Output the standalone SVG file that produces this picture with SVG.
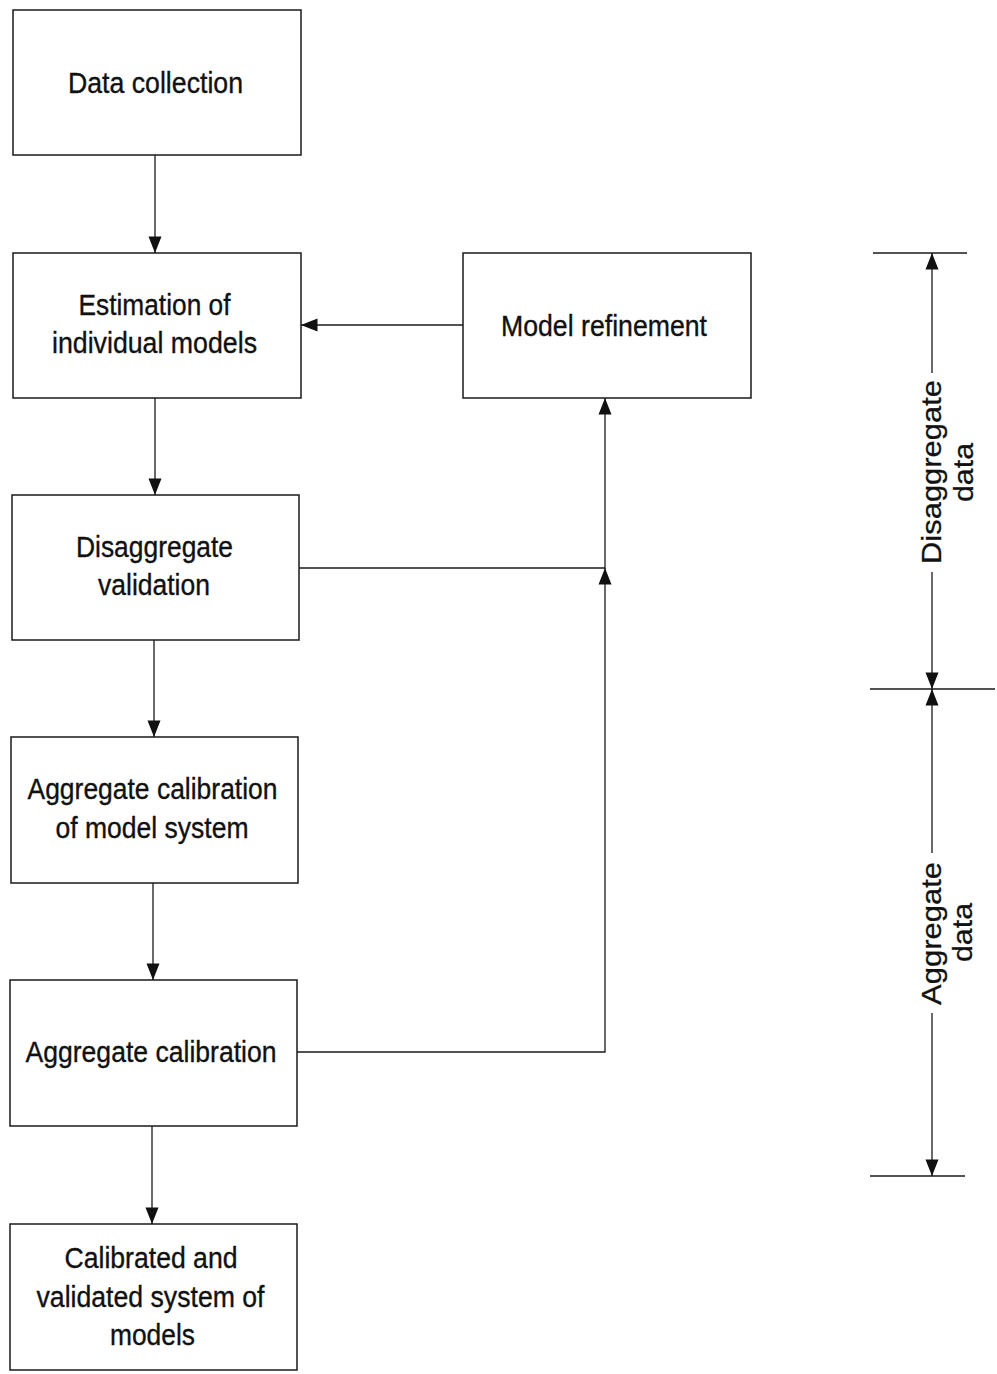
<svg xmlns="http://www.w3.org/2000/svg" width="997" height="1374" viewBox="0 0 997 1374">
  <defs>
    <style>
      .box { fill: #fff; stroke: #1a1a1a; stroke-width: 1.5; }
      .lbl { font-family: "Liberation Sans", Arial, sans-serif; font-size: 29px; fill: #111; stroke: #111; stroke-width: 0.35; text-anchor: middle; }
      .dim { font-family: "Liberation Sans", Arial, sans-serif; font-size: 28px; fill: #111; stroke: #111; stroke-width: 0.3; text-anchor: middle; }
      .wire { fill: none; stroke: #1a1a1a; stroke-width: 1.3; }
      .tick { fill: none; stroke: #1a1a1a; stroke-width: 1.5; }
    </style>
    <marker id="head" markerUnits="userSpaceOnUse" viewBox="0 0 17 14" markerWidth="17" markerHeight="14" refX="16.5" refY="7" orient="auto" overflow="visible">
      <path d="M0,0.5 L16.5,7 L0,13.5 z" fill="#111"/>
    </marker>
  </defs>
  <rect width="997" height="1374" fill="#fff"/>

  <!-- process steps -->
  <g id="data-collection">
    <rect class="box" x="13" y="10" width="288" height="145"/>
    <text class="lbl" x="155.5" y="93" textLength="175" lengthAdjust="spacingAndGlyphs">Data collection</text>
  </g>
  <g id="estimation">
    <rect class="box" x="13" y="253" width="288" height="145"/>
    <text class="lbl" x="154.5" y="315" textLength="152" lengthAdjust="spacingAndGlyphs">Estimation of</text>
    <text class="lbl" x="154.5" y="353" textLength="205" lengthAdjust="spacingAndGlyphs">individual models</text>
  </g>
  <g id="model-refinement">
    <rect class="box" x="463" y="253" width="288" height="145"/>
    <text class="lbl" x="604" y="336" textLength="206" lengthAdjust="spacingAndGlyphs">Model refinement</text>
  </g>
  <g id="disaggregate-validation">
    <rect class="box" x="12" y="495" width="287" height="145"/>
    <text class="lbl" x="154.5" y="557" textLength="157" lengthAdjust="spacingAndGlyphs">Disaggregate</text>
    <text class="lbl" x="154" y="595" textLength="112" lengthAdjust="spacingAndGlyphs">validation</text>
  </g>
  <g id="aggregate-calibration-system">
    <rect class="box" x="11" y="737" width="287" height="146"/>
    <text class="lbl" x="152.5" y="799" textLength="250" lengthAdjust="spacingAndGlyphs">Aggregate calibration</text>
    <text class="lbl" x="152" y="838" textLength="193" lengthAdjust="spacingAndGlyphs">of model system</text>
  </g>
  <g id="aggregate-calibration">
    <rect class="box" x="10" y="980" width="287" height="146"/>
    <text class="lbl" x="151" y="1062" textLength="251" lengthAdjust="spacingAndGlyphs">Aggregate calibration</text>
  </g>
  <g id="calibrated-system">
    <rect class="box" x="10" y="1224" width="287" height="146"/>
    <text class="lbl" x="151" y="1268" textLength="173" lengthAdjust="spacingAndGlyphs">Calibrated and</text>
    <text class="lbl" x="150.5" y="1307" textLength="228" lengthAdjust="spacingAndGlyphs">validated system of</text>
    <text class="lbl" x="152.5" y="1345" textLength="85" lengthAdjust="spacingAndGlyphs">models</text>
  </g>

  <!-- flow connectors -->
  <g id="connectors">
    <path class="wire" d="M155,155 V253" marker-end="url(#head)"/>
    <path class="wire" d="M155,398 V495" marker-end="url(#head)"/>
    <path class="wire" d="M154,640 V737" marker-end="url(#head)"/>
    <path class="wire" d="M153,883 V980" marker-end="url(#head)"/>
    <path class="wire" d="M152,1126 V1224" marker-end="url(#head)"/>
    <path class="wire" d="M463,325 H301" marker-end="url(#head)"/>
    <path class="wire" d="M299,568 H605 V398" marker-end="url(#head)"/>
    <path class="wire" d="M297,1052 H605 V568" marker-end="url(#head)"/>
  </g>

  <!-- data range scale -->
  <g id="data-scale">
    <line class="tick" x1="873" y1="253" x2="967" y2="253"/>
    <line class="tick" x1="870" y1="689" x2="995" y2="689"/>
    <line class="tick" x1="870" y1="1176" x2="965" y2="1176"/>
    <path class="wire" d="M932,373 V253" marker-end="url(#head)"/>
    <path class="wire" d="M932,572 V689" marker-end="url(#head)"/>
    <path class="wire" d="M932,853 V689" marker-end="url(#head)"/>
    <path class="wire" d="M932,1013 V1176" marker-end="url(#head)"/>
  </g>
  <g id="disaggregate-data">
    <text class="dim" transform="translate(941,472) rotate(-90)" textLength="184" lengthAdjust="spacingAndGlyphs">Disaggregate</text>
    <text class="dim" transform="translate(973,472.5) rotate(-90)" textLength="59" lengthAdjust="spacingAndGlyphs">data</text>
  </g>
  <g id="aggregate-data">
    <text class="dim" transform="translate(941,933.5) rotate(-90)" textLength="143" lengthAdjust="spacingAndGlyphs">Aggregate</text>
    <text class="dim" transform="translate(972,932.5) rotate(-90)" textLength="59" lengthAdjust="spacingAndGlyphs">data</text>
  </g>
</svg>
